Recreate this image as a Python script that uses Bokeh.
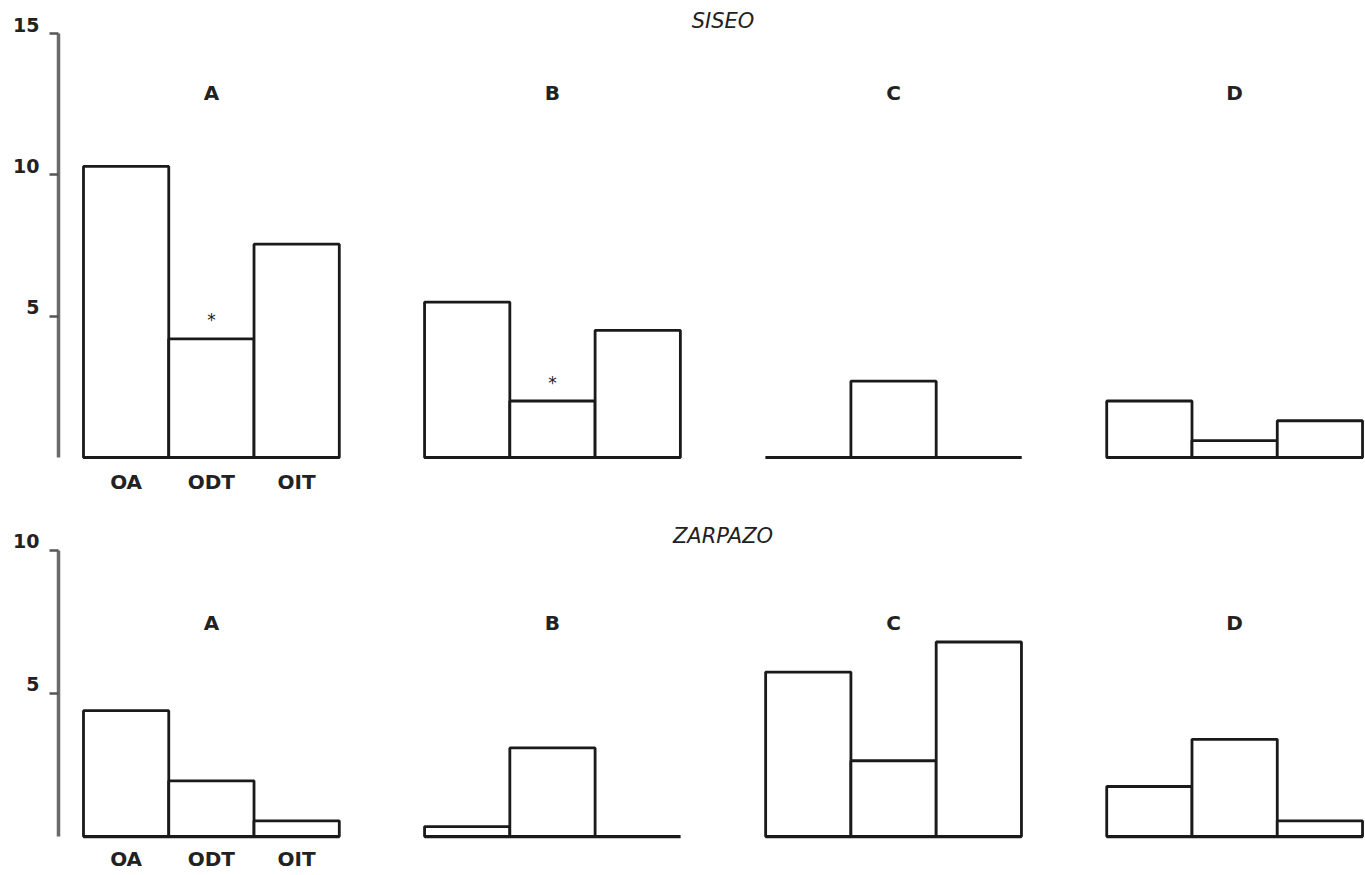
from bokeh.plotting import figure
from bokeh.layouts import column
from bokeh.models import Range1d, FixedTicker, ColumnDataSource, LinearAxis
from bokeh.core.properties import value
from bokeh.embed import file_html
from bokeh.resources import INLINE

# ---- data ----
groups = ["A", "B", "C", "D"]
categories = ["OA", "ODT", "OIT"]

siseo_OA = [10.3, 5.5, 0.0, 2.0]
siseo_ODT = [4.2, 2.0, 2.7, 0.6]
siseo_OIT = [7.55, 4.5, 0.0, 1.3]

zarpazo_OA = [4.4, 0.35, 5.75, 1.75]
zarpazo_ODT = [1.95, 3.1, 2.65, 3.4]
zarpazo_OIT = [0.55, 0.0, 6.8, 0.55]

siseo_marked = [("A", "ODT"), ("B", "ODT")]   # asterisks
zarpazo_marked = []

FONT = "DejaVu Sans"
GROUP_STEP = 4
INK = "#1a1a1a"
TEXT = "#222222"


def build(title, oa, odt, oit, marked, y_bottom, y_top, y_ticks, axis_max,
          height, title_y, group_y, cat_y, label_shift):
    p = figure(width=1364, height=height, output_backend="svg",
               toolbar_location=None, x_axis_location=None,
               x_range=Range1d(-0.793, 14.523),
               y_range=Range1d(y_bottom, y_top))
    p.min_border_left = 58
    p.min_border_right = 0
    p.min_border_top = 0
    p.min_border_bottom = 0
    p.outline_line_color = None
    p.xgrid.grid_line_color = None
    p.ygrid.grid_line_color = None
    p.background_fill_color = "white"
    p.border_fill_color = "white"

    xs, tops = [], []
    series = [oa, odt, oit]
    for gi, g in enumerate(groups):
        for ci, c in enumerate(categories):
            xs.append(gi * GROUP_STEP + ci)
            tops.append(series[ci][gi])
    src = ColumnDataSource(dict(x=xs, top=tops))
    p.vbar(x="x", top="top", bottom=0, width=1.0, source=src,
           fill_color="white", line_color=INK, line_width=2.8)

    # baseline under each group (covers zero-valued bars)
    gx0 = [gi * GROUP_STEP - 0.5 for gi in range(len(groups))]
    gx1 = [gi * GROUP_STEP + len(categories) - 0.5 for gi in range(len(groups))]
    p.segment(x0=gx0, y0=[0] * len(groups), x1=gx1, y1=[0] * len(groups),
              line_color=INK, line_width=3.2)

    # group letters
    centers = [gi * GROUP_STEP + 1 for gi in range(len(groups))]
    p.text(x=centers, y=[group_y] * len(groups), text=groups,
           text_font=value(FONT), text_font_style="bold",
           text_font_size="20px", text_align="center",
           text_baseline="middle", text_color=TEXT)

    # category names under group A only
    p.text(x=[0, 1, 2], y=[cat_y] * 3, text=categories,
           text_font=value(FONT), text_font_style="bold",
           text_font_size="20px", text_align="center",
           text_baseline="middle", text_color=TEXT)

    # panel title
    p.text(x=[7], y=[title_y], text=[title], text_font=value(FONT),
           text_font_style="italic", text_font_size="21px",
           text_align="center", text_baseline="middle", text_color=TEXT)

    # asterisks
    if marked:
        ax, ay = [], []
        for g, c in marked:
            gi = groups.index(g)
            ci = categories.index(c)
            ax.append(gi * GROUP_STEP + ci)
            ay.append(series[ci][gi] + 0.3)
        p.text(x=ax, y=ay, text=["*"] * len(ax), text_font=value(FONT),
               text_font_size="17px", text_align="center",
               text_baseline="bottom", text_color=TEXT)

    # inner y axis: line and ticks only
    ya = p.yaxis[0]
    ya.bounds = (0, axis_max)
    ya.ticker = FixedTicker(ticks=y_ticks)
    ya.major_label_overrides = {t: "" for t in y_ticks}
    ya.major_label_standoff = 0
    ya.axis_line_color = "#6a6a6a"
    ya.axis_line_width = 3.5
    ya.major_tick_line_color = "#555555"
    ya.major_tick_line_width = 2.5
    ya.major_tick_out = 9
    ya.major_tick_in = 0
    ya.minor_tick_line_color = None

    # outer y axis: tick numbers, sitting a little above each tick as drawn
    lab_ticks = [t + label_shift for t in y_ticks]
    yl = LinearAxis(ticker=FixedTicker(ticks=lab_ticks),
                    major_label_overrides={lt: str(t) for lt, t in zip(lab_ticks, y_ticks)})
    yl.axis_line_color = None
    yl.major_tick_line_color = None
    yl.minor_tick_line_color = None
    yl.major_tick_out = 0
    yl.major_tick_in = 0
    yl.major_label_standoff = 10
    yl.major_label_text_font = FONT
    yl.major_label_text_font_size = "19px"
    yl.major_label_text_font_style = "bold"
    yl.major_label_text_color = TEXT
    p.add_layout(yl, "left")
    return p


top = build("SISEO", siseo_OA, siseo_ODT, siseo_OIT, siseo_marked,
            y_bottom=-1.344, y_top=16.17, y_ticks=[5, 10, 15], axis_max=15,
            height=495, title_y=15.46, group_y=12.88, cat_y=-0.85,
            label_shift=0.32)
bottom = build("ZARPAZO", zarpazo_OA, zarpazo_ODT, zarpazo_OIT, zarpazo_marked,
               y_bottom=-1.29, y_top=11.92, y_ticks=[5, 10], axis_max=10,
               height=378, title_y=10.49, group_y=7.45, cat_y=-0.78,
               label_shift=0.32)

layout = column(top, bottom, spacing=0)
open("out.html", "w").write(file_html(layout, INLINE))
